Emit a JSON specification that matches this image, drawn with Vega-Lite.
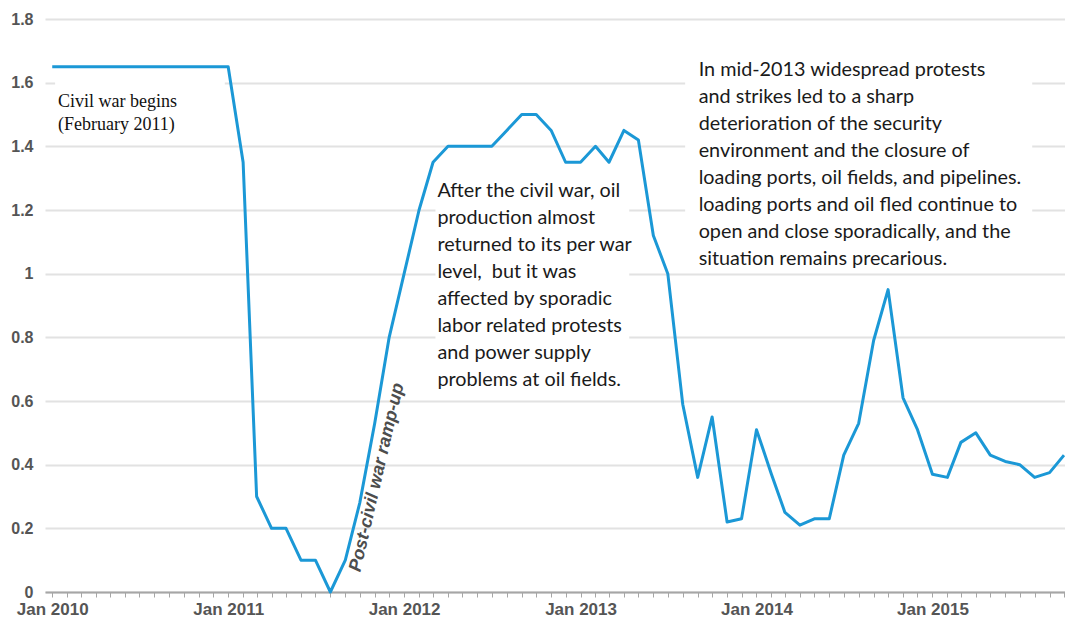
{
  "$schema": "https://vega.github.io/schema/vega-lite/v6.json",
  "autosize": {"type": "none"},
  "padding": {"left": 45, "top": 19, "right": 0, "bottom": 36},
  "width": 1020,
  "height": 573,
  "background": "white",
  "config": {"view": {"stroke": null}},
  "data": {"values": [
    {"date": "2010-01-01", "value": 1.65},
    {"date": "2010-02-01", "value": 1.65},
    {"date": "2010-03-01", "value": 1.65},
    {"date": "2010-04-01", "value": 1.65},
    {"date": "2010-05-01", "value": 1.65},
    {"date": "2010-06-01", "value": 1.65},
    {"date": "2010-07-01", "value": 1.65},
    {"date": "2010-08-01", "value": 1.65},
    {"date": "2010-09-01", "value": 1.65},
    {"date": "2010-10-01", "value": 1.65},
    {"date": "2010-11-01", "value": 1.65},
    {"date": "2010-12-01", "value": 1.65},
    {"date": "2011-01-01", "value": 1.65},
    {"date": "2011-02-01", "value": 1.35},
    {"date": "2011-03-01", "value": 0.30},
    {"date": "2011-04-01", "value": 0.20},
    {"date": "2011-05-01", "value": 0.20},
    {"date": "2011-06-01", "value": 0.10},
    {"date": "2011-07-01", "value": 0.10},
    {"date": "2011-08-01", "value": 0.00},
    {"date": "2011-09-01", "value": 0.10},
    {"date": "2011-10-01", "value": 0.28},
    {"date": "2011-11-01", "value": 0.53},
    {"date": "2011-12-01", "value": 0.80},
    {"date": "2012-01-01", "value": 1.00},
    {"date": "2012-02-01", "value": 1.20},
    {"date": "2012-03-01", "value": 1.35},
    {"date": "2012-04-01", "value": 1.40},
    {"date": "2012-05-01", "value": 1.40},
    {"date": "2012-06-01", "value": 1.40},
    {"date": "2012-07-01", "value": 1.40},
    {"date": "2012-08-01", "value": 1.45},
    {"date": "2012-09-01", "value": 1.50},
    {"date": "2012-10-01", "value": 1.50},
    {"date": "2012-11-01", "value": 1.45},
    {"date": "2012-12-01", "value": 1.35},
    {"date": "2013-01-01", "value": 1.35},
    {"date": "2013-02-01", "value": 1.40},
    {"date": "2013-03-01", "value": 1.35},
    {"date": "2013-04-01", "value": 1.45},
    {"date": "2013-05-01", "value": 1.42},
    {"date": "2013-06-01", "value": 1.12},
    {"date": "2013-07-01", "value": 1.00},
    {"date": "2013-08-01", "value": 0.59},
    {"date": "2013-09-01", "value": 0.36},
    {"date": "2013-10-01", "value": 0.55},
    {"date": "2013-11-01", "value": 0.22},
    {"date": "2013-12-01", "value": 0.23},
    {"date": "2014-01-01", "value": 0.51},
    {"date": "2014-02-01", "value": 0.37},
    {"date": "2014-03-01", "value": 0.25},
    {"date": "2014-04-01", "value": 0.21},
    {"date": "2014-05-01", "value": 0.23},
    {"date": "2014-06-01", "value": 0.23},
    {"date": "2014-07-01", "value": 0.43},
    {"date": "2014-08-01", "value": 0.53},
    {"date": "2014-09-01", "value": 0.79},
    {"date": "2014-10-01", "value": 0.95},
    {"date": "2014-11-01", "value": 0.61},
    {"date": "2014-12-01", "value": 0.51},
    {"date": "2015-01-01", "value": 0.37},
    {"date": "2015-02-01", "value": 0.36},
    {"date": "2015-03-01", "value": 0.47},
    {"date": "2015-04-01", "value": 0.50},
    {"date": "2015-05-01", "value": 0.43},
    {"date": "2015-06-01", "value": 0.41},
    {"date": "2015-07-01", "value": 0.40},
    {"date": "2015-08-01", "value": 0.36},
    {"date": "2015-09-01", "value": 0.375},
    {"date": "2015-10-01", "value": 0.43}
  ]},
  "layer": [
    {
      "data": {"values": [
        {"start": "2010-01-07", "end": "2010-12-25", "top": 1.61, "bottom": 1.43},
        {"start": "2012-03-06", "end": "2013-04-12", "top": 1.31, "bottom": 0.625},
        {"start": "2013-08-06", "end": "2015-07-27", "top": 1.69, "bottom": 1.01}
      ]},
      "mark": {"type": "rect", "color": "white"},
      "encoding": {
        "x": {"field": "start", "type": "temporal"},
        "x2": {"field": "end"},
        "y": {"field": "top", "type": "quantitative"},
        "y2": {"field": "bottom"}
      }
    },
    {
      "mark": {"type": "line", "color": "#1b98d6", "strokeWidth": 3, "strokeJoin": "round"},
      "encoding": {
        "x": {
          "field": "date", "type": "temporal",
          "scale": {"domain": ["2009-12-17", "2015-10-03"]},
          "axis": {
            "title": null, "grid": false,
            "tickCount": {"interval": "month", "step": 1},
            "labelExpr": "month(datum.value) == 0 ? 'Jan ' + year(datum.value) : ''",
            "labelOverlap": false, "labelFlush": false,
            "domainColor": "#a6a6a6", "domainWidth": 2,
            "tickColor": "#a6a6a6", "tickSize": 5, "tickWidth": 1,
            "labelFont": "Liberation Sans",
            "labelFontSize": 17, "labelColor": "#555555", "labelFontWeight": "bold",
            "labelPadding": 4
          }
        },
        "y": {
          "field": "value", "type": "quantitative",
          "scale": {"domain": [0, 1.8], "nice": false, "zero": true},
          "axis": {
            "title": null, "values": [0, 0.2, 0.4, 0.6, 0.8, 1, 1.2, 1.4, 1.6, 1.8],
            "format": ".1~f", "domain": false, "ticks": false,
            "gridColor": "#e2e2e2", "gridWidth": 2,
            "labelFont": "Liberation Sans",
            "labelFontSize": 16, "labelColor": "#555555", "labelFontWeight": "bold",
            "labelPadding": 12
          }
        }
      }
    },
    {
      "data": {"values": [{"note": "Civil war begins\n(February 2011)", "date": "2010-01-13", "value": 1.524}]},
      "mark": {
        "type": "text", "align": "left", "baseline": "alphabetic", "lineBreak": "\n",
        "font": "Liberation Serif", "fontSize": 18, "lineHeight": 23, "color": "#111111"
      },
      "encoding": {
        "x": {"field": "date", "type": "temporal"},
        "y": {"field": "value", "type": "quantitative"},
        "text": {"field": "note"}
      }
    },
    {
      "data": {"values": [{"note": "After the civil war, oil\nproduction almost\nreturned to its per war\nlevel, \u2005but it was\naffected by sporadic\nlabor related protests\nand power supply\nproblems at oil fields.", "date": "2012-03-10", "value": 1.241}]},
      "mark": {
        "type": "text", "align": "left", "baseline": "alphabetic", "lineBreak": "\n",
        "font": "Lato", "fontSize": 19.8, "lineHeight": 27, "color": "#1a1a1a"
      },
      "encoding": {
        "x": {"field": "date", "type": "temporal"},
        "y": {"field": "value", "type": "quantitative"},
        "text": {"field": "note"}
      }
    },
    {
      "data": {"values": [{"note": "In mid-2013 widespread protests\n\u2005and strikes led to a sharp\ndeterioration of the security\nenvironment and the closure of\nloading ports, oil fields, and pipelines.\nloading ports and oil fled continue to\nopen and close sporadically, and the\nsituation remains precarious.", "date": "2013-09-03", "value": 1.621}]},
      "mark": {
        "type": "text", "align": "left", "baseline": "alphabetic", "lineBreak": "\n",
        "font": "Lato", "fontSize": 19.8, "lineHeight": 27, "color": "#1a1a1a"
      },
      "encoding": {
        "x": {"field": "date", "type": "temporal"},
        "y": {"field": "value", "type": "quantitative"},
        "text": {"field": "note"}
      }
    },
    {
      "data": {"values": [{"note": "Post-civil war ramp-up", "date": "2011-11-06", "value": 0.36}]},
      "mark": {
        "type": "text", "align": "center", "baseline": "middle", "angle": 283,
        "font": "Liberation Sans", "fontSize": 18, "fontStyle": "italic", "fontWeight": "bold",
        "color": "#4d4d4d"
      },
      "encoding": {
        "x": {"field": "date", "type": "temporal"},
        "y": {"field": "value", "type": "quantitative"},
        "text": {"field": "note"}
      }
    }
  ]
}
